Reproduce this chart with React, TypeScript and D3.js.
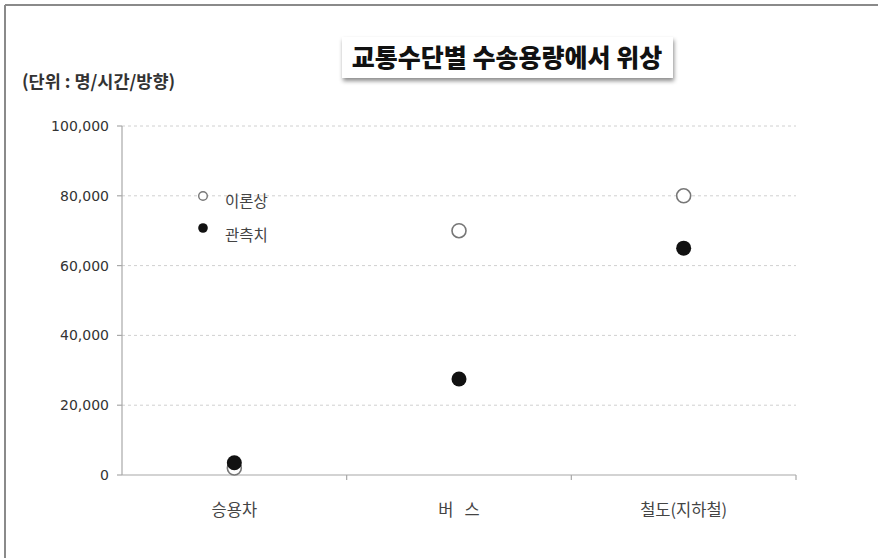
import React from "react";
import * as d3 from "d3";

const categories = ["승용차", "버\u00A0\u00A0\u00A0스", "철도(지하철)"];
const theoretical = [2000, 70000, 80000];
const observed = [3500, 27500, 65000];
const yTicks = [0, 20000, 40000, 60000, 80000, 100000];
const seriesNames = ["이론상", "관측치"];
const titleText = "교통수단별 수송용량에서 위상";
const unitText = "(단위 : 명/시간/방향)";

const W = 878;
const H = 558;
const FONT = "'Noto Sans CJK KR', 'Noto Sans', sans-serif";
const NUMFONT = "'DejaVu Sans', 'Noto Sans', sans-serif";

export default function App() {
  const x = d3.scaleBand<string>().domain(categories).range([122, 796]);
  const y = d3.scaleLinear().domain([0, 100000]).range([475, 126]);
  const fmt = d3.format(",");
  const x0 = x.range()[0];
  const x1 = x.range()[1];

  return (
    <div style={{ position: "absolute", left: 0, top: 0, width: W, height: H, background: "#fff" }}>
      <svg width={W} height={H} style={{ display: "block", fontFamily: FONT }}>
        <defs>
          <filter id="shadow" x="-10%" y="-30%" width="120%" height="170%">
            <feDropShadow dx="1" dy="3" stdDeviation="2" floodColor="#000" floodOpacity="0.45" />
          </filter>
        </defs>
        <rect x={0} y={0} width={W} height={H} fill="#fff" />
        {/* outer frame */}
        <line x1={5} y1={5} x2={W} y2={5} stroke="#8a8a8a" strokeWidth={2} />
        <line x1={5} y1={5} x2={5} y2={H} stroke="#8a8a8a" strokeWidth={2} />

        {/* title box */}
        <rect x={342} y={37} width={331} height={41} fill="#fff" filter="url(#shadow)" />
        <text x={507} y={66.5} textAnchor="middle" fontSize={25} fontWeight="900" fill="#111">
          {titleText}
        </text>

        {/* unit */}
        <text x={22} y={88} fontSize={17.5} fontWeight="bold" fill="#333">
          {unitText}
        </text>

        {/* gridlines */}
        {yTicks.filter((t) => t > 0).map((t) => (
          <line key={"g" + t} x1={x0} x2={x1} y1={y(t)} y2={y(t)} stroke="#d0d0d0" strokeWidth={1} strokeDasharray="3,3" />
        ))}

        {/* y axis */}
        <line x1={x0} x2={x0} y1={y(100000)} y2={y(0)} stroke="#a8a8a8" strokeWidth={1.2} />
        {yTicks.map((t) => (
          <g key={"yt" + t}>
            <line x1={x0 - 5} x2={x0} y1={y(t)} y2={y(t)} stroke="#a8a8a8" strokeWidth={1.2} />
            <text x={x0 - 13} y={y(t)} dy="0.36em" textAnchor="end" fontSize={14} fill="#333" fontFamily={NUMFONT}>
              {fmt(t)}
            </text>
          </g>
        ))}

        {/* x axis */}
        <line x1={x0} x2={x1} y1={y(0)} y2={y(0)} stroke="#a8a8a8" strokeWidth={1.2} />
        {categories.map((c) => (
          <g key={"xt" + c}>
            <line x1={(x(c) as number) + x.bandwidth()} x2={(x(c) as number) + x.bandwidth()} y1={y(0)} y2={y(0) + 5} stroke="#a8a8a8" strokeWidth={1.2} />
            <text x={(x(c) as number) + x.bandwidth() / 2} y={516} textAnchor="middle" fontSize={16.5} fill="#444">
              {c}
            </text>
          </g>
        ))}

        {/* markers */}
        {categories.map((c, i) => (
          <circle key={"o" + c} cx={(x(c) as number) + x.bandwidth() / 2} cy={y(theoretical[i])} r={7} fill="#fff" stroke="#777" strokeWidth={1.6} />
        ))}
        {categories.map((c, i) => (
          <circle key={"f" + c} cx={(x(c) as number) + x.bandwidth() / 2} cy={y(observed[i])} r={7.5} fill="#111" />
        ))}

        {/* legend */}
        <circle cx={203} cy={196} r={4.3} fill="#fff" stroke="#777" strokeWidth={1.4} />
        <text x={225} y={202} dy="0.35em" fontSize={15.5} fill="#444">{seriesNames[0]}</text>
        <circle cx={203} cy={228} r={4.8} fill="#111" />
        <text x={225} y={236} dy="0.35em" fontSize={15.5} fill="#444">{seriesNames[1]}</text>
      </svg>
    </div>
  );
}
